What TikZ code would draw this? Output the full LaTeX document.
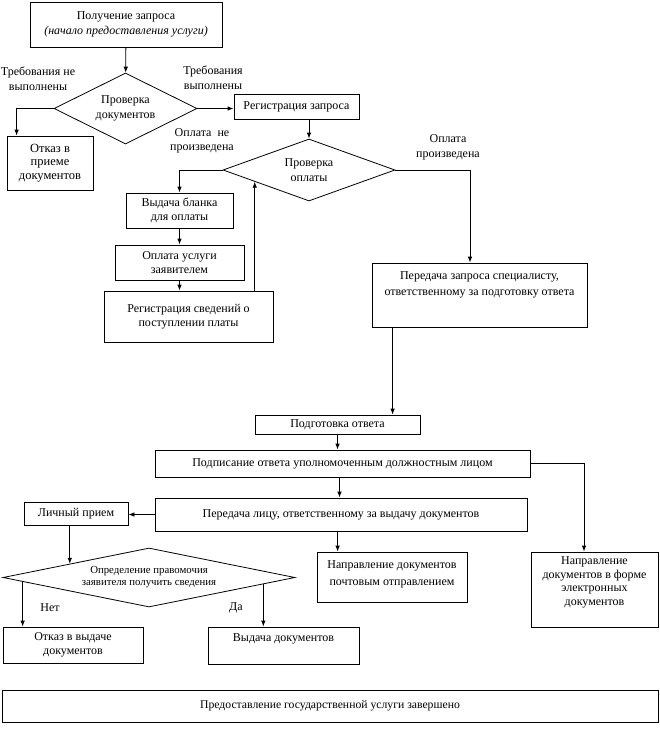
\documentclass[tikz,border=0pt]{standalone}
\usepackage{fontspec}
\setmainfont{Liberation Serif}
\usetikzlibrary{shapes.geometric,calc,arrows.meta}
\newcommand\tbx[4]{\parbox[c][#2][t]{#1}{\centering\rule{0pt}{#3}#4}}
\begin{document}
\begin{tikzpicture}[x=1pt,y=-1pt,
  box/.style={draw, line width=0.8pt, inner sep=0pt, align=center, font=\fontsize{12}{14.5}\selectfont},
  dia/.style={draw, diamond, line width=0.8pt, inner sep=0pt, align=center, font=\fontsize{12}{14.5}\selectfont},
  arr/.style={-{Latex[length=6pt,width=4.5pt]}, line width=0.8pt},
  lab/.style={align=center, inner sep=0pt, font=\fontsize{12}{14.5}\selectfont}]
\useasboundingbox (0,0) rectangle (660,731);
% boxes
\node[box, minimum width=192, minimum height=45] (top) at (126,24.5) {Получение запроса\\\textit{(начало предоставления услуги)}};
\node[dia, aspect=2, minimum width=143, minimum height=71] (d1) at (125.5,108.5) {Проверка\\документов};
\node[box, minimum width=86, minimum height=54, font=\fontsize{12.5}{13.5}\selectfont] (ot1) at (50,163) {Отказ в\\приеме\\документов};
\node[box, minimum width=125, minimum height=25] (reg) at (296.5,106.5) {Регистрация запроса};
\node[dia, aspect=2.8, minimum width=172, minimum height=62] (d2) at (309,170) {Проверка\\оплаты};
\node[box, minimum width=107, minimum height=35] (vb) at (179.5,210.5) {Выдача бланка\\для оплаты};
\node[box, minimum width=129, minimum height=35] (ou) at (179.5,262.5) {Оплата услуги\\заявителем};
\node[box, minimum width=169, minimum height=51] (rs) at (188.5,316.5) {Регистрация сведений о\\поступлении платы};
\node[box, font=\fontsize{12}{16}\selectfont] (ps) at (479.5,295) {\tbx{215pt}{64pt}{16pt}{Передача запроса специалисту,\\ответственному за подготовку ответа}};
\node[box, minimum width=165, minimum height=19] (po) at (337.5,424.5) {Подготовка ответа};
\node[box, minimum width=375, minimum height=27] (pod) at (342.5,463.5) {Подписание ответа уполномоченным должностным лицом};
\node[box, minimum width=372, minimum height=33] (pl) at (341,514.5) {Передача лицу, ответственному за выдачу документов};
\node[box, minimum width=104, minimum height=23] (lp) at (76,513.5) {Личный прием};
\node[box, font=\fontsize{12}{17}\selectfont] (np) at (392,577) {\tbx{150pt}{50pt}{16pt}{Направление документов\\почтовым отправлением}};
\node[box, minimum width=127, minimum height=75, font=\fontsize{12}{13.5}\selectfont] (el) at (594.5,589.5) {Направление\\документов в форме\\электронных\\документов\\[3pt]};
\node[dia, aspect=5, minimum width=292, minimum height=59, font=\fontsize{10.8}{12}\selectfont] (d3) at (149,577.5) {Определение правомочия\\заявителя получить сведения};
\node[box, minimum width=140, minimum height=36] (oo) at (73,645) {Отказ в выдаче\\документов};
\node[box] (vd) at (283.5,645.5) {\tbx{151pt}{37pt}{14pt}{Выдача документов}};
\node[box, minimum width=656, minimum height=32, font=\fontsize{11.7}{14}\selectfont] (fin) at (330,706) {Предоставление государственной услуги завершено};
% labels
\node[lab] (l1) at (38,79) {Требования не\\выполнены};
\node[lab] (l2) at (213,78) {Требования\\выполнены};
\node[lab] (l3) at (202,141) {Оплата\ \ не\\произведена};
\node[lab] (l4) at (448,147.5) {Оплата\\произведена};
\node[lab] (l5) at (50,608) {Нет};
\node[lab] (l6) at (236,608) {Да};
% helper points on diamond borders
\coordinate (p1) at ($(d2.west)!0.372!(d2.south)$);
\coordinate (q1) at ($(d3.north)!0.541!(d3.west)$);
\coordinate (r1) at ($(d3.west)!0.137!(d3.south)$);
\coordinate (s1) at ($(d3.east)!0.219!(d3.south)$);
\coordinate (psx) at ($(ps.south west)+(21,0)$);
\coordinate (ot1x) at ($(ot1.north west)+(10,0)$);
\coordinate (npx) at ($(np.north west)+(21,0)$);
% connectors
\draw[arr] (top) -- (d1);
\draw[arr] (d1.west) -| (ot1x);
\draw[arr] (d1.east) -- (d1.east -| reg.west);
\draw[arr] (reg.south -| d2.north) -- (d2.north);
\draw[arr] (d2.west) -| (vb.north);
\draw[arr] (d2.east) -| ($(ps.north)+(-9.5,0)$);
\draw[arr] (vb.south) -- (ou.north);
\draw[arr] (ou.south) -- (ou.south |- rs.north);
\draw[arr] (rs.north -| p1) -- (p1);
\draw[arr] (psx) -- (psx |- po.north);
\draw[arr] (po.south) -- (po.south |- pod.north);
\draw[arr] (pod.east) -| ($(el.north)+(-10.5,0)$);
\draw[arr] ([xshift=-3pt]pod.south) -- ([xshift=-3pt]pod.south |- pl.north);
\draw[arr] (pl.south -| npx) -- (npx);
\draw[arr] (pl.west) -- (pl.west -| lp.east);
\draw[arr] (lp.south -| q1) -- (q1);
\draw[arr] (r1) -- (r1 |- oo.north);
\draw[arr] (s1) -- (s1 |- vd.north);
\end{tikzpicture}
\end{document}
